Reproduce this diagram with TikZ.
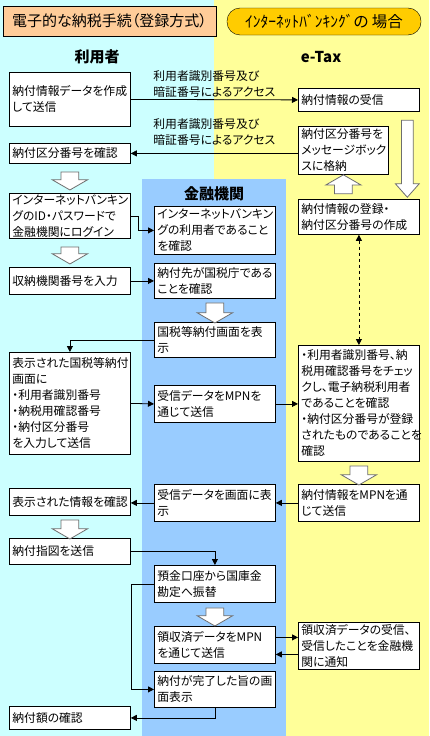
\documentclass[tikz,border=0pt]{standalone}
\usepackage{fontspec}
\newfontfamily\jp[RawFeature=+palt]{Noto Sans CJK JP}
\usetikzlibrary{arrows.meta,shapes.arrows,calc}

\definecolor{usercyan}{HTML}{CCFFFF}
\definecolor{taxyellow}{HTML}{FFFF99}
\definecolor{bankblue}{HTML}{99CCFF}
\definecolor{titleorange}{HTML}{FFCC99}
\definecolor{titlegold}{HTML}{FFCC00}
\definecolor{arrowgray}{HTML}{6E6E6E}

\tikzset{
  box/.style={draw, fill=white, line width=0.8pt, anchor=north west, align=left,
    inner xsep=3pt, inner ysep=0pt, text width=115pt,
    font=\jp\fontsize{11.8}{16}\selectfont},
  header/.style={font=\jp\bfseries\fontsize{15}{18}\selectfont},
  lbl/.style={align=left, inner sep=2pt, font=\jp\fontsize{11.8}{16}\selectfont},
  flow/.style={line width=0.8pt, -{Triangle[length=6pt,width=6pt]}},
  hollow/.style={single arrow, draw=arrowgray, fill=white, line width=0.8pt,
    minimum height=#1, minimum width=35pt, inner xsep=0pt, inner ysep=8.5pt,
    single arrow head extend=8.75pt, single arrow tip angle=120},
  hollowdown/.style={hollow=#1, rotate=-90},
  hollowup/.style={hollow=#1, rotate=90},
}

\begin{document}
\begin{tikzpicture}[x=1pt, y=-1pt]
    % Backgrounds of the three columns
    \useasboundingbox (0,0) rectangle (429,736);
    \fill[usercyan] (0,0) rectangle (214,736);
    \fill[taxyellow] (214,0) rectangle (429,736);
    \fill[bankblue] (142,179) rectangle (286,736);

    % Titles
    \node[draw, fill=titleorange, minimum width=213pt, minimum height=30pt,
      font=\jp\fontsize{15}{17}\selectfont] (title) at (109.5,21) {電子的な納税手続（登録方式）};
    \node[draw, fill=titlegold, rounded corners=13pt, minimum width=194pt, minimum height=27pt,
      font=\jp\fontsize{15.5}{17}\selectfont] (case) at (324,21.5) {ｲﾝﾀｰﾈｯﾄﾊﾞﾝｷﾝｸﾞの 場合};

    % Column headers
    \node[header] (huser) at (97,57) {利用者};
    \node[header] (htax) at (321,57) {e-Tax};
    \node[header] (hbank) at (214,194) {金融機関};

    % User column
    \node[box, minimum height=54pt] (L1) at (9,72) {納付情報データを作成\\して送信};
    \node[box, minimum height=20pt] (L2) at (9,143) {納付区分番号を確認};
    \node[box, minimum height=45pt] (L3) at (9,193) {インターネットバンキン\\グのID・パスワードで\\金融機関にログイン};
    \node[box, minimum height=27pt] (L4) at (9,267) {収納機関番号を入力};
    \node[box, minimum height=102pt] (L5) at (9,352) {表示された国税等納付\\画面に\\・利用者識別番号\\・納税用確認番号\\・納付区分番号\\を入力して送信};
    \node[box, minimum height=27pt] (L6) at (9,488) {表示された情報を確認};
    \node[box, minimum height=26pt] (L7) at (9,538) {納付指図を送信};
    \node[box, minimum height=23pt] (L8) at (9,706) {納付額の確認};

    % Bank column
    \node[box, minimum height=48pt] (M1) at (154,206) {インターネットバンキン\\グの利用者であること\\を確認};
    \node[box, minimum height=35pt] (M2) at (154,263) {納付先が国税庁である\\ことを確認};
    \node[box, minimum height=35pt] (M3) at (154,322) {国税等納付画面を表\\示};
    \node[box, minimum height=37pt] (M4) at (154,385) {受信データをMPNを\\通じて送信};
    \node[box, minimum height=37pt] (M5) at (154,484) {受信データを画面に表\\示};
    \node[box, minimum height=37pt] (M6) at (154,565) {預金口座から国庫金\\勘定へ振替};
    \node[box, minimum height=37pt] (M7) at (154,626) {領収済データをMPN\\を通じて送信};
    \node[box, minimum height=36pt] (M8) at (154,671) {納付が完了した旨の画\\面表示};

    % e-Tax column
    \node[box, minimum height=23pt] (R1) at (298,88) {納付情報の受信};
    \node[box, minimum height=48pt, text width=84pt] (R2) at (298,126) {納付区分番号を\\メッセージボック\\スに格納};
    \node[box, minimum height=35pt] (R3) at (298,199) {納付情報の登録・\\納付区分番号の作成};
    \node[box, minimum height=116pt] (R4) at (298,345) {・利用者識別番号、納\\税用確認番号をチェッ\\クし、電子納税利用者\\であることを確認\\・納付区分番号が登録\\されたものであることを\\確認};
    \node[box, minimum height=37pt] (R5) at (298,484) {納付情報をMPNを通\\じて送信};
    \node[box, minimum height=47pt] (R6) at (298,622) {領収済データの受信、\\受信したことを金融機\\関に通知};

    % Hollow step arrows
    \node[hollowdown=18pt] (a1) at ($(L2.south)!0.5!(L3.north)$) {};
    \node[hollowdown=17pt] (a2) at ($(L3.south)!0.5!(L4.north)$) {};
    \node[hollowdown=20pt] (a3) at ($(M2.south)!0.5!(M3.north)$) {};
    \node[hollowup=19pt] (a4) at ($(R2.south)!0.5!(R2.south |- R3.north)$) {};
    \node[hollowdown=19pt] (a5) at ($(R4.south)!0.5!(R5.north)$) {};
    \node[hollowdown=19pt] (a6) at ($(L6.south)!0.5!(L7.north)$) {};
    \node[hollowdown=18pt] (a7) at ($(M6.south)!0.5!(M7.north)$) {};
    \node[hollow=77pt, rotate=-90, inner ysep=5.5pt, minimum width=23pt,
      single arrow head extend=6pt, single arrow tip angle=83]
      (abig) at ($(R1.south east)!0.5!(R3.north east)+(-12.5,0)$) {};

    % Access between user and e-Tax
    \draw[flow] (L1.east) -- (R1.west)
      node[lbl, midway, above] {利用者識別番号及び\\暗証番号によるアクセス};
    \draw[flow] (R2.west |- L2.east) -- (L2.east)
      node[lbl, midway, above=6pt] {利用者識別番号及び\\暗証番号によるアクセス};
    \draw[line width=0.8pt, dashed, {Triangle[length=6pt,width=6pt]}-{Triangle[length=6pt,width=6pt]}]
      (R3.south) -- (R3.south |- R4.north);

    % Connectors
    \draw[flow] (L3.east) -- ++(8,0) |- (M1.west);
    \draw[flow] (L4.east) -- (M2.west);
    \draw[flow] (M3.west) -| (L5.north);
    \draw[flow] (L5.east) -- (M4.west);
    \draw[flow] (M4.east) -- (R4.west |- M4.east);
    \draw[flow] (R5.west) -- (M5.east);
    \draw[flow] (M5.west) -- (L6.east |- M5.west);
    \draw[flow] (L7.east) -| (M6.north);
    \draw[flow] (M6.west) -- ++(-23,0) |- (M8.west);
    \draw[flow] ([yshift=7.5pt]M7.east) -- ([yshift=7.5pt]M7.east -| R6.west);
    \draw[flow] ([yshift=-9.5pt]M7.east -| R6.west) -- ([yshift=-9.5pt]M7.east);
    \draw[flow] (M8.south) |- (L8.east);
\end{tikzpicture}
\end{document}
